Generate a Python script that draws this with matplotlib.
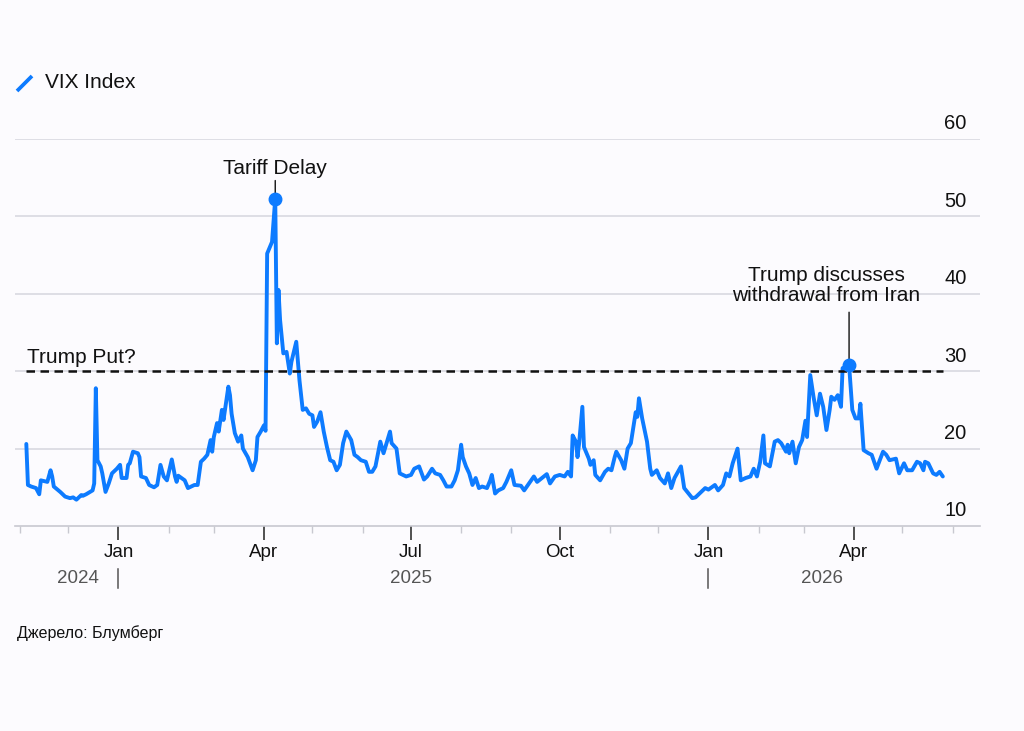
import matplotlib
matplotlib.use('Agg')
import matplotlib.pyplot as plt
import matplotlib.dates as mdates
import matplotlib.transforms as mtransforms
from matplotlib.lines import Line2D
import pandas as pd

plt.rcParams['font.family'] = ['Liberation Sans', 'DejaVu Sans']

# VIX values
dates = [
    '2024-11-05', '2024-11-06', '2024-11-08', '2024-11-11', '2024-11-13', '2024-11-14', '2024-11-18',
    '2024-11-20', '2024-11-21', '2024-11-22', '2024-11-26', '2024-11-29', '2024-12-02', '2024-12-04',
    '2024-12-06', '2024-12-09', '2024-12-10', '2024-12-12', '2024-12-16', '2024-12-17', '2024-12-18',
    '2024-12-19', '2024-12-21', '2024-12-22', '2024-12-24', '2024-12-26', '2024-12-28', '2024-12-31',
    '2025-01-02', '2025-01-03', '2025-01-06', '2025-01-07', '2025-01-08', '2025-01-10', '2025-01-13',
    '2025-01-14', '2025-01-15', '2025-01-18', '2025-01-20', '2025-01-23', '2025-01-25', '2025-01-27',
    '2025-01-29', '2025-01-31', '2025-02-02', '2025-02-03', '2025-02-05', '2025-02-06', '2025-02-07',
    '2025-02-09', '2025-02-11', '2025-02-13', '2025-02-17', '2025-02-19', '2025-02-21', '2025-02-23',
    '2025-02-25', '2025-02-27', '2025-02-28', '2025-03-01', '2025-03-03', '2025-03-04', '2025-03-06',
    '2025-03-07', '2025-03-10', '2025-03-11', '2025-03-12', '2025-03-14', '2025-03-16', '2025-03-18',
    '2025-03-19', '2025-03-22', '2025-03-25', '2025-03-27', '2025-03-28', '2025-03-30', '2025-04-01',
    '2025-04-02', '2025-04-03', '2025-04-06', '2025-04-08', '2025-04-09', '2025-04-10', '2025-04-11',
    '2025-04-13', '2025-04-15', '2025-04-17', '2025-04-18', '2025-04-21', '2025-04-23', '2025-04-25',
    '2025-04-27', '2025-04-29', '2025-05-01', '2025-05-02', '2025-05-04', '2025-05-06', '2025-05-08',
    '2025-05-10', '2025-05-12', '2025-05-14', '2025-05-16', '2025-05-18', '2025-05-20', '2025-05-22',
    '2025-05-25', '2025-05-27', '2025-05-29', '2025-05-31', '2025-06-03', '2025-06-05', '2025-06-07',
    '2025-06-09', '2025-06-12', '2025-06-14', '2025-06-17', '2025-06-18', '2025-06-19', '2025-06-22',
    '2025-06-24', '2025-06-28', '2025-07-01', '2025-07-03', '2025-07-06', '2025-07-09', '2025-07-11',
    '2025-07-14', '2025-07-16', '2025-07-19', '2025-07-21', '2025-07-23', '2025-07-26', '2025-07-28',
    '2025-07-30', '2025-08-01', '2025-08-02', '2025-08-04', '2025-08-06', '2025-08-08', '2025-08-10',
    '2025-08-12', '2025-08-14', '2025-08-17', '2025-08-19', '2025-08-20', '2025-08-22', '2025-08-24',
    '2025-08-27', '2025-08-29', '2025-09-01', '2025-09-03', '2025-09-07', '2025-09-09', '2025-09-12',
    '2025-09-15', '2025-09-17', '2025-09-20', '2025-09-23', '2025-09-25', '2025-09-28', '2025-10-01',
    '2025-10-04', '2025-10-06', '2025-10-08', '2025-10-09', '2025-10-11', '2025-10-12', '2025-10-13',
    '2025-10-15', '2025-10-16', '2025-10-19', '2025-10-20', '2025-10-22', '2025-10-23', '2025-10-26',
    '2025-10-29', '2025-10-31', '2025-11-02', '2025-11-04', '2025-11-05', '2025-11-08', '2025-11-10',
    '2025-11-12', '2025-11-14', '2025-11-17', '2025-11-18', '2025-11-19', '2025-11-21', '2025-11-24',
    '2025-11-26', '2025-11-27', '2025-11-30', '2025-12-02', '2025-12-05', '2025-12-07', '2025-12-09',
    '2025-12-11', '2025-12-15', '2025-12-17', '2025-12-22', '2025-12-24', '2025-12-30', '2026-01-01',
    '2026-01-05', '2026-01-07', '2026-01-10', '2026-01-12', '2026-01-14', '2026-01-16', '2026-01-19',
    '2026-01-21', '2026-01-24', '2026-01-27', '2026-01-29', '2026-01-31', '2026-02-02', '2026-02-04',
    '2026-02-05', '2026-02-08', '2026-02-11', '2026-02-13', '2026-02-15', '2026-02-18', '2026-02-19',
    '2026-02-20', '2026-02-22', '2026-02-24', '2026-02-26', '2026-02-28', '2026-03-02', '2026-03-03',
    '2026-03-05', '2026-03-07', '2026-03-09', '2026-03-11', '2026-03-13', '2026-03-15', '2026-03-17',
    '2026-03-18', '2026-03-20', '2026-03-22', '2026-03-24', '2026-03-25', '2026-03-27', '2026-03-29',
    '2026-03-31', '2026-04-02', '2026-04-04', '2026-04-05', '2026-04-07', '2026-04-10', '2026-04-12',
    '2026-04-15', '2026-04-19', '2026-04-21', '2026-04-23', '2026-04-27', '2026-04-29', '2026-05-02',
    '2026-05-04', '2026-05-07', '2026-05-10', '2026-05-12', '2026-05-14', '2026-05-15', '2026-05-17',
    '2026-05-20', '2026-05-22', '2026-05-24', '2026-05-26',
]
vix = [
    20.6, 15.3, 15.1, 14.9, 14.1, 15.9, 15.7,
    17.2, 16.4, 15.1, 14.4, 13.8, 13.6, 13.7,
    13.4, 14.0, 13.9, 14.1, 14.6, 15.5, 27.8,
    18.5, 17.7, 16.8, 14.4, 15.5, 16.8, 17.4,
    17.9, 16.2, 16.2, 17.9, 18.1, 19.6, 19.4,
    18.9, 16.4, 16.2, 15.3, 15.0, 15.3, 17.9,
    16.4, 15.9, 17.7, 18.6, 16.4, 15.7, 16.5,
    16.2, 15.9, 14.9, 15.3, 15.3, 18.3, 18.7,
    19.2, 21.1, 19.6, 21.5, 23.3, 22.2, 25.0,
    23.7, 28.0, 26.9, 24.5, 22.0, 20.9, 21.7,
    20.0, 18.9, 17.2, 18.5, 21.5, 22.2, 23.0,
    22.3, 45.2, 46.7, 52.3, 33.6, 40.5, 36.6,
    32.3, 32.5, 29.7, 31.2, 33.8, 28.8, 25.0,
    25.2, 24.5, 24.3, 22.8, 23.5, 24.7, 22.2,
    20.2, 18.5, 18.3, 17.2, 17.9, 20.7, 22.2,
    21.1, 19.2, 18.9, 18.5, 18.3, 17.0, 17.0,
    17.7, 20.9, 19.4, 21.5, 22.2, 20.7, 20.0,
    16.8, 16.4, 16.6, 17.4, 17.7, 16.0, 16.4,
    17.4, 16.8, 16.6, 15.9, 15.1, 15.1, 15.9,
    17.2, 20.5, 18.9, 17.7, 16.8, 15.3, 16.2,
    14.9, 15.1, 14.9, 15.9, 16.6, 14.2, 14.6,
    14.9, 15.7, 17.2, 15.3, 15.2, 14.6, 15.5,
    16.4, 15.7, 16.2, 16.7, 15.5, 16.4, 16.6,
    16.4, 17.0, 16.4, 21.7, 20.9, 18.9, 20.7,
    25.4, 20.2, 18.7, 17.9, 18.5, 16.6, 15.9,
    17.0, 17.4, 17.2, 18.9, 19.6, 18.5, 17.4,
    20.0, 20.7, 24.7, 24.1, 26.5, 23.9, 20.9,
    17.4, 16.6, 17.2, 16.2, 15.5, 16.8, 14.9,
    16.2, 17.7, 14.9, 13.6, 13.7, 14.9, 14.7,
    15.3, 14.6, 15.3, 16.8, 16.4, 18.1, 20.0,
    15.9, 16.2, 16.4, 17.4, 16.4, 18.3, 21.7,
    18.1, 17.7, 20.9, 21.1, 20.7, 19.6, 20.5,
    19.4, 20.9, 18.1, 20.2, 21.1, 23.6, 21.5,
    29.5, 26.7, 24.3, 27.1, 25.4, 22.4, 25.0,
    26.7, 26.3, 26.9, 25.4, 30.4, 30.6, 30.8,
    25.0, 23.9, 23.9, 25.8, 19.8, 19.4, 19.2,
    17.4, 19.6, 19.2, 18.5, 18.7, 16.8, 18.1,
    17.2, 17.2, 18.3, 18.1, 17.2, 18.3, 18.1,
    16.8, 16.6, 17.0, 16.4,
]

put_level = 30
put_label = 'Trump Put?'
tariff_label = 'Tariff Delay'
tariff_date = '2025-04-08'
tariff_value = 52.3
iran_label = 'Trump discusses\nwithdrawal from Iran'
iran_date = '2026-03-29'
iran_value = 30.8
y_ticks = [10, 20, 30, 40, 50, 60]
years = [('2024', '2024-12-20', 'right'), ('2025', '2025-07-01', 'center'), ('2026', '2026-03-12', 'center')]
year_breaks = ['2025-01-01', '2026-01-01']

bg = '#fcfbfe'
blue = '#0d7bff'

x = pd.to_datetime(dates)

fig = plt.figure(figsize=(10.24, 7.31), dpi=100, facecolor=bg)
ax = fig.add_axes([15 / 1024, 1 - 526 / 731, 965 / 1024, 387 / 731])
ax.set_facecolor(bg)

for v in y_ticks[1:]:
    ax.axhline(v, color='#d6d6de', lw=1.1, zorder=1)

ax.plot(x, vix, color=blue, lw=2.8, solid_joinstyle='round', solid_capstyle='round', zorder=3)

ax.hlines(put_level, x[0], x[-1], colors='#111111', lw=1.8, linestyles=(0, (3.4, 2.2)), zorder=4)

ax.set_xlim(pd.Timestamp('2024-10-29'), pd.Timestamp('2026-06-18'))
ax.set_ylim(10, 60)

for s in ['top', 'left', 'right']:
    ax.spines[s].set_visible(False)
ax.spines['bottom'].set_color('#c8c8d0')
ax.spines['bottom'].set_linewidth(1.2)

ax.set_yticks([])
ytr = mtransforms.blended_transform_factory(ax.transAxes, ax.transData)
for v in y_ticks:
    ax.annotate(str(v), xy=(0.986, v), xycoords=ytr, xytext=(0, 4), textcoords='offset points',
                ha='right', va='bottom', fontsize=14.5, color='#111111')

ax.xaxis.set_major_locator(mdates.MonthLocator(bymonth=[1, 4, 7, 10]))
ax.xaxis.set_minor_locator(mdates.MonthLocator())
ax.xaxis.set_major_formatter(mdates.DateFormatter('%b'))
ax.tick_params(axis='x', which='major', length=10, width=1.2, color='#333333', pad=3,
               labelsize=13.5, labelcolor='#111111')
ax.tick_params(axis='x', which='minor', length=5, width=1.0, color='#c8c8d0')

xtr = mtransforms.blended_transform_factory(ax.transData, ax.transAxes)
for label, d, ha in years:
    ax.text(pd.Timestamp(d), -0.136, label, transform=xtr, ha=ha, va='center',
            fontsize=13.5, color='#555555')
for d in year_breaks:
    ax.add_line(Line2D([pd.Timestamp(d)] * 2, [-0.111, -0.160], transform=xtr,
                       color='#555555', lw=1.1, clip_on=False))

# annotations
td = pd.Timestamp(tariff_date)
ax.plot(td, tariff_value, 'o', ms=9, color=blue, zorder=5)
ax.annotate(tariff_label, xy=(td, tariff_value), xytext=(0, 15), textcoords='offset points',
            ha='center', va='bottom', fontsize=15, color='#111111',
            arrowprops=dict(arrowstyle='-', lw=1.0, color='#111111', shrinkA=0, shrinkB=0))

idt = pd.Timestamp(iran_date)
ax.plot(idt, iran_value, 'o', ms=9, color=blue, zorder=5)
ax.annotate('', xy=(idt, iran_value), xytext=(0, 38), textcoords='offset points',
            arrowprops=dict(arrowstyle='-', lw=1.0, color='#111111', shrinkA=0, shrinkB=0))
ax.annotate(iran_label, xy=(idt, iran_value), xytext=(-16.5, 43), textcoords='offset points',
            ha='center', va='bottom', fontsize=15, color='#111111', linespacing=1.1)

ax.annotate(put_label, xy=(0.012, put_level), xycoords=ytr, xytext=(0, 3), textcoords='offset points',
            ha='left', va='bottom', fontsize=15, color='#111111')

# legend
fig.add_artist(Line2D([17 / 1024, 32 / 1024], [1 - 91 / 731, 1 - 76 / 731], color=blue, lw=2.7,
                      solid_capstyle='butt'))
fig.text(45 / 1024, 1 - 83 / 731, 'VIX Index', ha='left', va='center', fontsize=15, color='#111111')

fig.text(17 / 1024, 1 - 633 / 731, 'Джерело: Блумберг', ha='left', va='center', fontsize=11.5,
         color='#111111')

fig.savefig('out.png', dpi=100, facecolor=bg)
